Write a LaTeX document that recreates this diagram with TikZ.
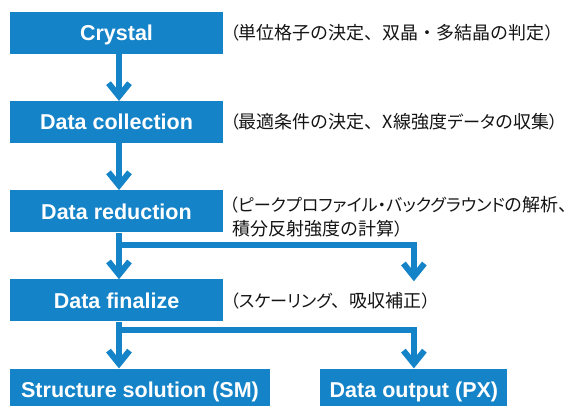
\documentclass[tikz,border=0pt]{standalone}
\usepackage{fontspec}
\setsansfont{Liberation Sans}
\newfontfamily\jpfont{Noto Sans CJK JP}
\newfontfamily\jpprop[RawFeature=+palt,Scale=0.95]{Noto Sans CJK JP}
\newcommand{\kana}[1]{{\jpprop #1}}
\usetikzlibrary{arrows.meta,positioning}
\definecolor{myblue}{RGB}{20,131,200}
\definecolor{mytext}{RGB}{20,20,20}
\tikzset{
  stagebox/.style={fill=myblue,minimum width=213pt,minimum height=42pt,inner sep=0pt,
    text=white,font=\sffamily\bfseries\fontsize{21.5}{24}\selectfont,text height=15.4pt,text depth=0pt},
  note/.style={anchor=west,inner sep=0pt,text=mytext,align=left,font=\jpfont\fontsize{18}{24}\selectfont},
  flow/.style={myblue,line width=6pt,-{Straight Barb[length=13pt,width=21pt]}}
}
\begin{document}
\begin{tikzpicture}[x=1pt,y=1pt]
    \useasboundingbox (0,0) rectangle (581,-405);
    % stages
    \node[stagebox] (crystal) at (116.5,-33) {Crystal};
    \node[stagebox,below=46.75pt of crystal] (collection) {Data collection};
    \node[stagebox,below=46.75pt of collection] (reduction) {Data reduction};
    \node[stagebox,below=46.75pt of reduction] (finalize) {Data finalize};
    \node[stagebox,minimum width=260pt,anchor=north west] (solution) at ([yshift=-46.75pt]finalize.south west) {Structure solution (SM)};
    \node[stagebox,minimum width=187pt,right=50pt of solution] (dataout) {Data output (PX)};
    % notes
    \node[note,right=7pt of crystal] (crystalnote) {\kana{（}単位格子の決定、双晶・多結晶の判定\kana{）}};
    \node[note,right=7pt of collection] (collectionnote) {\kana{（}最適条件の決定、X線強度\kana{データ}の収集\kana{）}};
    \node[note,right=6pt of reduction,yshift=-5.5pt] (reductionnote) {\kana{（ピークプロファイル・バックグラウンド}の解析、\\\kana{\,}積分反射強度の計算\kana{）}};
    \node[note,right=7pt of finalize] (finalizenote) {\kana{（スケーリング}、吸収補正\kana{）}};
    % flow
    \coordinate (rtip) at ([yshift=-2pt]finalize.north -| dataout.north);
    \draw[flow] ([xshift=2.5pt]crystal.south) -- ([xshift=2.5pt]collection.north);
    \draw[flow] ([xshift=2.5pt]collection.south) -- ([xshift=2.5pt]reduction.north);
    \draw[flow] ([xshift=2.5pt]reduction.south) -- ([xshift=2.5pt]finalize.north);
    \draw[flow] ([xshift=2.5pt,yshift=-12pt]reduction.south) -| (rtip);
    \draw[flow] ([xshift=2.5pt]finalize.south) -- ([xshift=2.5pt]finalize.south |- solution.north);
    \draw[flow] ([xshift=2.5pt,yshift=-8pt]finalize.south) -| (dataout.north);
\end{tikzpicture}
\end{document}
